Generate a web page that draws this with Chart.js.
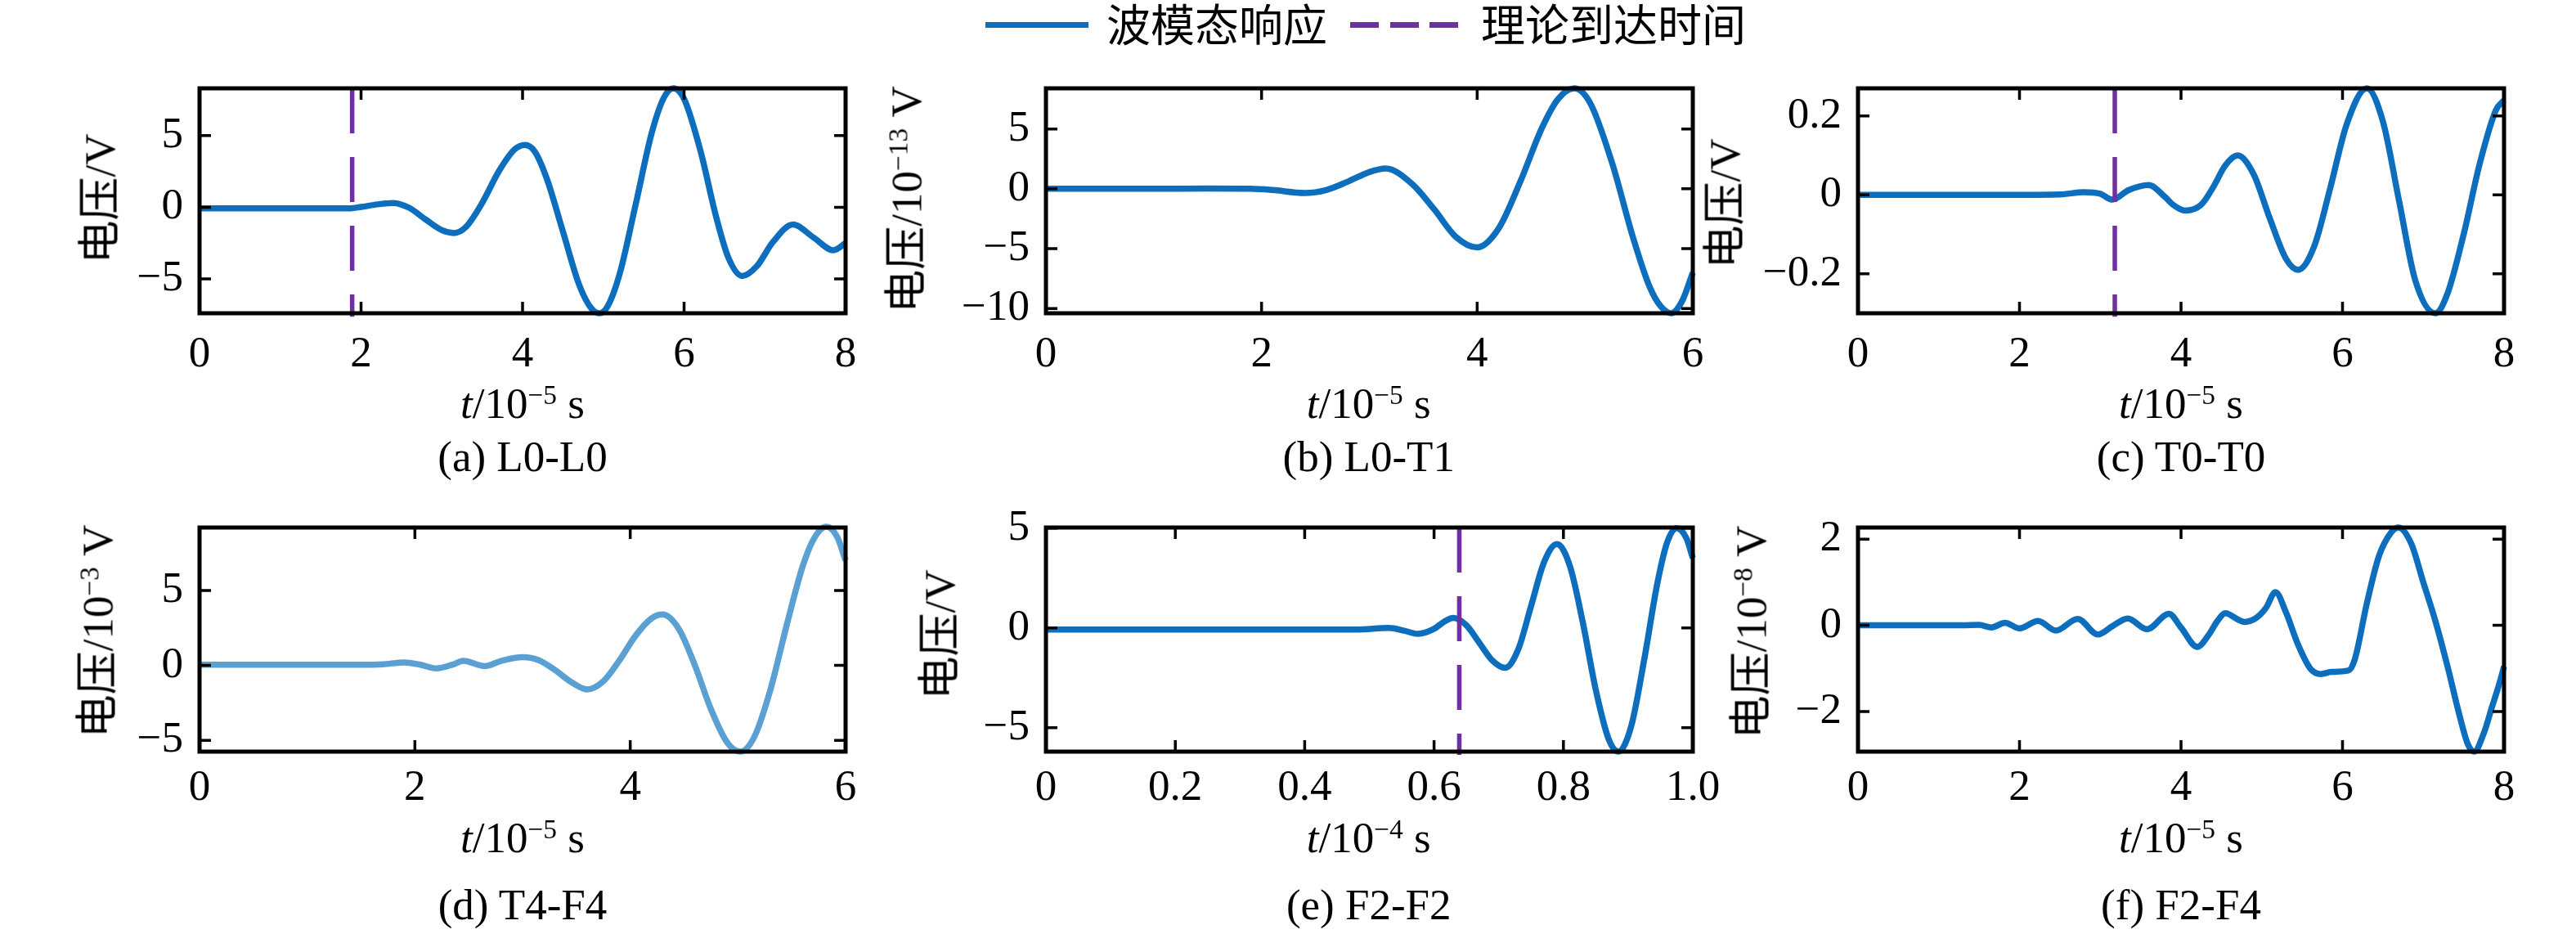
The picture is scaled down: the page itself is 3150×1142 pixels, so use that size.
<!DOCTYPE html>
<html><head><meta charset="utf-8">
<script src="https://cdn.jsdelivr.net/npm/chart.js@4.4.1/dist/chart.umd.min.js"></script>
<style>
html,body{margin:0;padding:0;background:#fff;}
#fig{position:relative;width:3150px;height:1142px;overflow:hidden;background:#fff;color:#000;
 font-family:"Liberation Serif","Noto Sans CJK SC",serif;}
canvas{position:absolute;}
.txt{position:absolute;white-space:nowrap;font-size:53px;line-height:53px;}
.cx{transform:translateX(-50%);}
.yl{transform:translate(-50%,-50%) rotate(-90deg);}
.sup{font-size:0.63em;position:relative;top:-0.5em;}
.lg{position:absolute;white-space:nowrap;font-family:"Noto Sans CJK SC",sans-serif;font-size:54px;line-height:54px;}
.bar{position:absolute;height:7px;}
</style></head>
<body><div id="fig"></div>
<script>
// ---------- data ----------
// (a) L0-L0  (t in 1e-5 s, V)
const tA = [0,0.5,1.0,1.5,1.85,2.0,2.2,2.4,2.6,2.8,3.0,3.15,3.3,3.5,3.7,3.9,4.03,4.15,4.3,4.5,4.7,4.85,4.95,5.05,5.2,5.4,5.6,5.75,5.87,6.0,6.2,6.4,6.55,6.72,6.9,7.1,7.35,7.6,7.85,8.0];
const vA = [-0.08,-0.08,-0.08,-0.08,-0.08,0.02,0.2,0.3,-0.05,-0.86,-1.6,-1.8,-1.37,0.3,2.45,4.03,4.35,3.9,2.0,-1.7,-5.4,-7.05,-7.4,-6.95,-4.7,0.18,5.2,7.65,8.3,7.56,4.0,-0.73,-3.54,-4.8,-4.12,-2.43,-1.2,-2.1,-3.0,-2.5];
// (b) L0-T1  (1e-13 V)
const tB = [0,0.5,1.0,1.5,1.9,2.1,2.4,2.6,2.8,3.0,3.15,3.4,3.6,3.8,4.0,4.2,4.4,4.6,4.75,4.9,5.05,5.25,5.45,5.6,5.7,5.8,5.9,6.0];
const vB = [0,0,0,0.02,0,-0.1,-0.35,-0.1,0.6,1.4,1.7,0.38,-1.7,-4.0,-4.9,-3.3,0.6,5.07,7.5,8.4,7.14,2.2,-4.2,-8.2,-9.8,-10.4,-9.4,-7.0];
// (c) T0-T0  (V)
const tC = [0,1.0,2.0,2.5,2.8,3.0,3.15,3.35,3.6,3.8,3.9,4.05,4.25,4.4,4.55,4.7,4.9,5.1,5.3,5.45,5.65,5.85,6.05,6.3,6.5,6.7,6.9,7.15,7.3,7.5,7.7,7.9,8.0];
const vC = [0,0,0,0.001,0.007,0.003,-0.012,0.012,0.025,-0.005,-0.025,-0.04,-0.025,0.02,0.075,0.1,0.052,-0.06,-0.162,-0.19,-0.13,0.019,0.178,0.27,0.186,-0.015,-0.216,-0.30,-0.25,-0.1,0.08,0.215,0.24];
// (d) T4-F4  (1e-3 V)
const tD = [0,0.5,1.0,1.5,1.7,1.9,2.05,2.2,2.35,2.45,2.65,2.8,3.0,3.15,3.3,3.45,3.6,3.75,3.9,4.05,4.2,4.3,4.45,4.6,4.75,4.9,5.02,5.15,5.3,5.45,5.6,5.7,5.82,5.92,6.0];
const vD = [0.05,0.05,0.05,0.05,0.08,0.2,0.05,-0.2,0.05,0.3,-0.05,0.3,0.55,0.35,-0.3,-1.1,-1.6,-1.06,0.34,1.99,3.15,3.4,2.45,0.01,-2.93,-5.14,-5.75,-4.8,-1.67,2.6,6.58,8.38,9.25,8.6,7.0];
// (e) F2-F2  (t in 1e-4 s, V)
const tE = [0,0.1,0.2,0.3,0.4,0.48,0.53,0.555,0.575,0.6,0.615,0.63,0.65,0.67,0.69,0.71,0.73,0.75,0.77,0.79,0.81,0.83,0.85,0.87,0.885,0.905,0.925,0.945,0.96,0.975,0.99,1.0];
const vE = [-0.08,-0.08,-0.08,-0.08,-0.08,-0.08,0.0,-0.15,-0.3,-0.05,0.3,0.5,0.13,-0.75,-1.63,-2.0,-1.09,1.1,3.29,4.2,3.1,0.27,-3.1,-5.58,-6.2,-4.9,-1.57,2.2,4.25,5.0,4.5,3.5];
// (f) F2-F4  (1e-8 V)
const tF = [0,0.5,1.0,1.3,1.5,1.65,1.82,2.0,2.23,2.45,2.72,2.97,3.15,3.34,3.58,3.85,4.0,4.2,4.35,4.45,4.55,4.7,4.79,4.93,5.05,5.17,5.3,5.45,5.6,5.73,5.86,6.07,6.15,6.3,6.45,6.6,6.69,6.85,7.0,7.15,7.3,7.45,7.55,7.63,7.75,7.85,7.95,8.0];
const vF = [0,0,0,0,0.01,-0.05,0.06,-0.07,0.1,-0.12,0.15,-0.21,-0.02,0.16,-0.09,0.27,-0.05,-0.5,-0.2,0.1,0.28,0.14,0.08,0.17,0.4,0.77,0.3,-0.45,-1.0,-1.13,-1.08,-1.05,-0.8,0.5,1.6,2.15,2.27,1.9,1.0,0.1,-0.95,-2.1,-2.75,-2.93,-2.5,-1.9,-1.3,-0.95];

// theoretical arrival times
const arrivalA = 1.89, arrivalC = 3.18, arrivalE = 0.639;

// axis limits
const xRange8 = [0,8], xRange6 = [0,6], xRangeE = [0,1.0];
const yRangeA = [-7.4,8.3], yRangeB = [-10.4,8.4], yRangeC = [-0.30,0.27];
const yRangeD = [-5.75,9.2], yRangeE = [-6.2,5.03], yRangeF = [-2.93,2.27];

// tick values / labels
const xTicks8 = [0,2,4,6,8], xLabels8 = ['0','2','4','6','8'];
const xTicks6 = [0,2,4,6], xLabels6 = ['0','2','4','6'];
const xTicksE = [0,0.2,0.4,0.6,0.8,1.0], xLabelsE = ['0','0.2','0.4','0.6','0.8','1.0'];
const yTicksA = [-5,0,5], yLabelsA = ['\u22125','0','5'];
const yTicksB = [-10,-5,0,5], yLabelsB = ['\u221210','\u22125','0','5'];
const yTicksC = [-0.2,0,0.2], yLabelsC = ['\u22120.2','0','0.2'];
const yTicksD = [-5,0,5], yLabelsD = ['\u22125','0','5'];
const yTicksE = [-5,0,5], yLabelsE = ['\u22125','0','5'];
const yTicksF = [-2,0,2], yLabelsF = ['\u22122','0','2'];

// texts
const legendLabels = ['波模态响应','理论到达时间'];
const captions = ['(a) L0-L0','(b) L0-T1','(c) T0-T0','(d) T4-F4','(e) F2-F2','(f) F2-F4'];
const yTitles = ['电压/V','电压/10<span class="sup">\u221213</span> V','电压/V',
                 '电压/10<span class="sup">\u22123</span> V','电压/V','电压/10<span class="sup">\u22128</span> V'];
const xTitles = ['<i>t</i>/10<span class="sup">\u22125</span> s','<i>t</i>/10<span class="sup">\u22125</span> s','<i>t</i>/10<span class="sup">\u22125</span> s',
                 '<i>t</i>/10<span class="sup">\u22125</span> s','<i>t</i>/10<span class="sup">\u22124</span> s','<i>t</i>/10<span class="sup">\u22125</span> s'];

// ---------- layout / style ----------
const BLUE = '#0C6EBD', LIGHTBLUE = '#5AA0D2', PURPLE = '#7030A0';
const COLS = [[244,1034],[1278.5,2069],[2272,3062]];
const ROWS = [[107.5,382],[644.5,918.7]];
const ROWTEXT = [{xpad:19, xtitleBase:511, capBase:576},{xpad:13, xtitleBase:1042, capBase:1124}];
const YLAB = [[123,243],[1112,244],[2110,249],[123,772],[1150,776],[2145,773]];
const YW = 200, XH = 90, PT = 40, PR = 45, TL = 14;
const FONT = {family:'"Liberation Serif", serif', size:53};

const panels = [
 {t:tA,v:vA,color:BLUE,xr:xRange8,yr:yRangeA,xt:xTicks8,xl:xLabels8,yt:yTicksA,yl:yLabelsA,arr:arrivalA},
 {t:tB,v:vB,color:BLUE,xr:xRange6,yr:yRangeB,xt:xTicks6,xl:xLabels6,yt:yTicksB,yl:yLabelsB,arr:null},
 {t:tC,v:vC,color:BLUE,xr:xRange8,yr:yRangeC,xt:xTicks8,xl:xLabels8,yt:yTicksC,yl:yLabelsC,arr:arrivalC},
 {t:tD,v:vD,color:LIGHTBLUE,xr:xRange6,yr:yRangeD,xt:xTicks6,xl:xLabels6,yt:yTicksD,yl:yLabelsD,arr:null},
 {t:tE,v:vE,color:BLUE,xr:xRangeE,yr:yRangeE,xt:xTicksE,xl:xLabelsE,yt:yTicksE,yl:yLabelsE,arr:arrivalE},
 {t:tF,v:vF,color:BLUE,xr:xRange8,yr:yRangeF,xt:xTicks8,xl:xLabels8,yt:yTicksF,yl:yLabelsF,arr:null}
];

const framePlugin = {
  id:'frame',
  afterDatasetsDraw(chart){
    const {ctx, chartArea:a} = chart;
    const x = chart.scales.x, y = chart.scales.y;
    ctx.save();
    ctx.strokeStyle = '#000';
    ctx.lineWidth = 3.5;
    ctx.beginPath();
    x.ticks.forEach(tk=>{
      const px = x.getPixelForValue(tk.value);
      ctx.moveTo(px,a.bottom); ctx.lineTo(px,a.bottom-TL);
      ctx.moveTo(px,a.top); ctx.lineTo(px,a.top+TL);
    });
    y.ticks.forEach(tk=>{
      const py = y.getPixelForValue(tk.value);
      ctx.moveTo(a.left,py); ctx.lineTo(a.left+TL,py);
      ctx.moveTo(a.right,py); ctx.lineTo(a.right-TL,py);
    });
    ctx.stroke();
    ctx.lineWidth = 5;
    ctx.strokeRect(a.left,a.top,a.right-a.left,a.bottom-a.top);
    ctx.restore();
  }
};

const fig = document.getElementById('fig');
function addText(html, cls, left, top){
  const d = document.createElement('div');
  d.className = cls; d.innerHTML = html;
  d.style.left = left+'px'; d.style.top = top+'px';
  fig.appendChild(d); return d;
}

panels.forEach((p,i)=>{
  const r = Math.floor(i/3), c = i%3;
  const [L,R] = COLS[c], [T,B] = ROWS[r];
  const cv = document.createElement('canvas');
  const W = Math.round(R-L+YW+PR), H = Math.round(B-T+PT+XH);
  cv.width = W; cv.height = H;
  cv.style.width = W+'px'; cv.style.height = H+'px';
  cv.style.left = (L-YW)+'px'; cv.style.top = (T-PT)+'px';
  fig.appendChild(cv);
  const datasets = [];
  if(p.arr!==null){
    const span = p.yr[1]-p.yr[0];
    datasets.push({data:[{x:p.arr,y:p.yr[1]},{x:p.arr,y:p.yr[0]-0.015*span}],
      borderColor:PURPLE,borderWidth:5.5,borderDash:[55,29],pointRadius:0,tension:0,clip:12});
  }
  datasets.push({data:p.t.map((t,k)=>({x:t,y:p.v[k]})),borderColor:p.color,borderWidth:7.5,
    pointRadius:0,cubicInterpolationMode:'monotone',clip:12});
  const rt = ROWTEXT[r];
  new Chart(cv,{
    type:'line',
    data:{datasets},
    options:{
      responsive:false, animation:false, events:[],
      layout:{padding:{top:PT,right:PR,left:0,bottom:0}},
      plugins:{legend:{display:false},tooltip:{enabled:false}},
      scales:{
        x:{type:'linear',min:p.xr[0],max:p.xr[1],
           grid:{display:false,drawTicks:false},border:{display:false},
           afterBuildTicks:s=>{s.ticks = p.xt.map(v=>({value:v}));},
           ticks:{padding:rt.xpad,font:FONT,color:'#000',maxRotation:0,minRotation:0,autoSkip:false,
                  callback:(v,k)=>p.xl[k]},
           afterFit:s=>{s.height=XH; s.paddingLeft=0; s.paddingRight=0;}},
        y:{type:'linear',min:p.yr[0],max:p.yr[1],
           grid:{display:false,drawTicks:false},border:{display:false},
           afterBuildTicks:s=>{s.ticks = p.yt.map(v=>({value:v}));},
           ticks:{padding:20,font:FONT,color:'#000',autoSkip:false,callback:(v,k)=>p.yl[k]},
           afterFit:s=>{s.width=YW; s.paddingTop=0; s.paddingBottom=0;}}
      }
    },
    plugins:[framePlugin]
  });
  const cxm = (L+R)/2;
  addText(xTitles[i],'txt cx',cxm,rt.xtitleBase-44.4);
  addText(captions[i],'txt cx',cxm,rt.capBase-44.4);
  addText(yTitles[i],'txt yl',YLAB[i][0],YLAB[i][1]);
});

// legend
const lgBar = (left,w,color)=>{const d=document.createElement('div');d.className='bar';
  d.style.left=left+'px';d.style.top='27px';d.style.width=w+'px';d.style.background=color;fig.appendChild(d);};
lgBar(1205,126,BLUE);
addText(legendLabels[0],'lg',1353,1);
lgBar(1651,35,PURPLE); lgBar(1699.5,35,PURPLE); lgBar(1748,35,PURPLE);
addText(legendLabels[1],'lg',1811,1);
</script></body></html>
